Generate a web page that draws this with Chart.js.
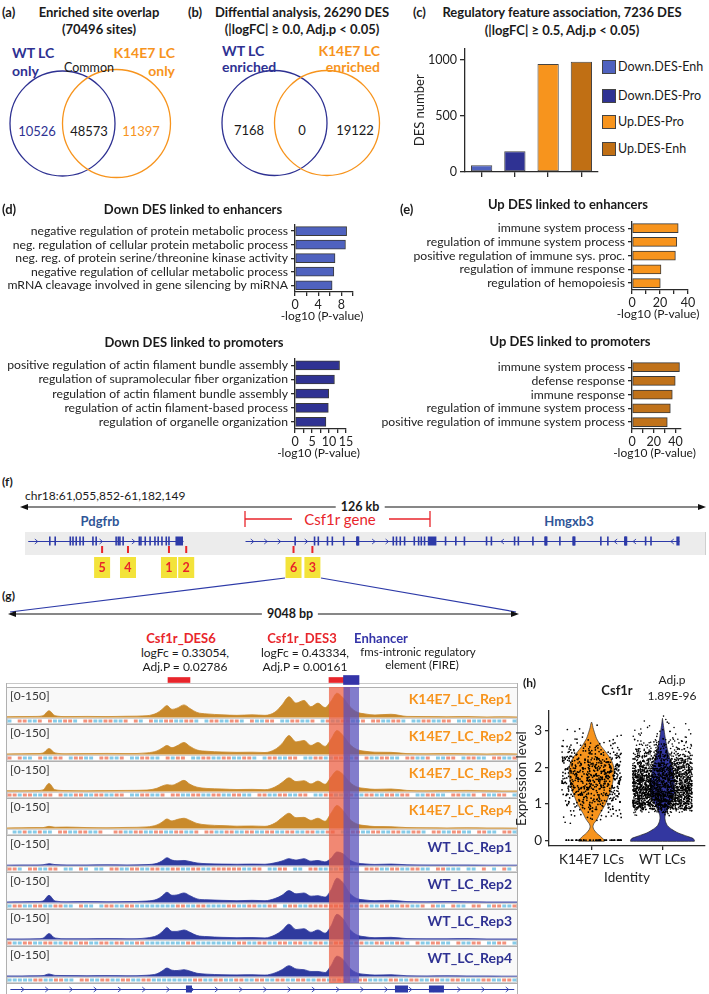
<!DOCTYPE html>
<html>
<head>
<meta charset="utf-8">
<script src="https://cdn.jsdelivr.net/npm/chart.js@4.4.1/dist/chart.umd.min.js"></script>
<style>
  body { margin: 0; background: #fff; }
  #fig { position: relative; width: 709px; height: 994px; overflow: hidden; font-family: Lato, "Open Sans", sans-serif; color: #1a1a1a; background: #fff; }
  #fig canvas, #fig svg { position: absolute; }
  .t { position: absolute; white-space: nowrap; line-height: 1; }
  .c { transform: translate(-50%, -50%); }
  .l { transform: translate(0, -50%); }
  .r { transform: translate(-100%, -50%); }
  .b { font-weight: bold; }
</style>
</head>
<body>
<div id="fig"></div>
<script>
// ---------- data ----------
const vennACounts = [10526, 48573, 11397];
const vennBCounts = [7168, 0, 19122];

const desLabels = ["Down.DES-Enh", "Down.DES-Pro", "Up.DES-Pro", "Up.DES-Enh"];
const desCounts = [60, 185, 962, 982];

const downEnhTerms = ["negative regulation of protein metabolic process", "neg. regulation of cellular protein metabolic process", "neg. reg. of protein serine/threonine kinase activity", "negative regulation of cellular metabolic process", "mRNA cleavage involved in gene silencing by miRNA"];
const downEnhP = [8.9, 8.7, 6.9, 6.7, 6.4];
const downProTerms = ["positive regulation of actin filament bundle assembly", "regulation of supramolecular fiber organization", "regulation of actin filament bundle assembly", "regulation of actin filament-based process", "regulation of organelle organization"];
const downProP = [13.1, 11.6, 9.9, 9.8, 9.1];
const upEnhTerms = ["immune system process", "regulation of immune system process", "positive regulation of immune sys. proc.", "regulation of immune response", "regulation of hemopoiesis"];
const upEnhP = [33, 32, 31, 20.7, 20.2];
const upProTerms = ["immune system process", "defense response", "immune response", "regulation of immune system process", "positive regulation of immune system process"];
const upProP = [43.6, 39.7, 37, 35.2, 32.4];

// (f) locus, positions in kb from chr18:61,055,852
const locusKb = 126.3;
const pdgfrbExons = [4.6, 5.6, 8.4, 8.9, 9.5, 10.2, 10.8, 12.6, 13.2, 16.9, 17.3, 17.6, 18.2, 21.2, 21.5, 22.3, 23.2, 24.1, 24.7, 25.4, 26.2, 26.7];
const csf1rExons = [50.1, 53.7, 54.4, 56.1, 57.0, 59.1, 61.7, 68.3, 68.9, 69.6, 70.4, 72.2, 73.0, 73.5, 74.1];
const hmgxb3Exons = [78.0, 79.9, 81.5, 85.6, 86.5, 90.8, 91.5, 94.2, 96.6, 99.2, 101.8, 106.8, 108.1, 111.4, 115.1, 116.1];
const desMarkIds = ["5", "4", "1", "2", "6", "3"];
const desMarkKb = [14.3, 19.1, 26.7, 29.9, 49.8, 53.3];

// (g) 9048 bp window
const trackSpan = 9048;
const trackBp = [0, 266, 532, 639, 745, 852, 1064, 1419, 1774, 2129, 2484, 2661, 2750, 2838, 2927, 3016, 3140, 3246, 3371, 3548, 3814, 4080, 4346, 4577, 4754, 4879, 5003, 5127, 5269, 5393, 5517, 5641, 5748, 5854, 5961, 6085, 6209, 6351, 6528, 6812, 7096, 7451, 7806, 8160, 8515, 8781, 9048];
const k14Rep1 = [4,5,6,10,38, 10,5,6,5,7, 10,25,45,66,45, 52,70,50,28,20, 15,12,15,12,30, 70,115,80,95,60, 80,55,90,135,110, 60,30,20,14,18, 6,5,4,5,3, 4,3];
const k14Rep2 = [3,4,5,8,33, 9,4,5,6,5, 9,20,35,50,38, 48,67,45,25,18, 14,12,13,11,28, 60,105,70,78,50, 67,45,85,133,105, 55,28,18,13,12, 5,4,5,4,3, 4,3];
const k14Rep3 = [4,4,5,9,45, 10,5,4,5,6, 8,18,30,38,35, 45,62,40,24,17, 14,11,12,10,25, 50,76,55,60,42, 58,40,80,115,95, 50,25,17,12,14, 6,4,5,6,4, 3,3];
const k14Rep4 = [3,4,5,5,12, 7,8,5,4,6, 9,20,35,53,42, 50,57,45,28,20, 16,13,14,12,30, 60,85,60,62,45, 57,40,85,128,100, 50,25,16,11,10, 5,4,3,4,3, 3,2];
const wtRep1 = [2,3,3,4,10, 5,3,3,4,3, 5,12,25,43,30, 26,28,22,14,10, 8,7,8,7,15, 25,38,30,38,24, 28,20,40,75,65, 30,14,9,6,8, 4,3,3,3,2, 2,2];
const wtRep2 = [3,4,5,8,40, 8,4,5,4,5, 8,18,35,57,40, 42,53,38,20,15, 12,10,12,10,22, 40,66,48,53,35, 38,30,70,135,110, 50,22,14,10,12, 5,4,5,4,3, 3,3];
const wtRep3 = [3,3,4,7,33, 8,4,4,5,4, 9,22,42,66,45, 45,53,40,22,16, 12,10,11,9,25, 50,85,55,60,40, 53,35,75,140,115, 55,25,15,10,12, 5,4,4,5,3, 3,3];
const wtRep4 = [3,3,4,5,14, 6,5,4,5,4, 7,15,30,47,35, 33,38,30,18,13, 10,9,10,8,20, 38,60,42,38,28, 28,22,60,113,95, 45,20,12,8,10, 4,3,4,3,3, 2,2];
const trackNames = ["K14E7_LC_Rep1", "K14E7_LC_Rep2", "K14E7_LC_Rep3", "K14E7_LC_Rep4", "WT_LC_Rep1", "WT_LC_Rep2", "WT_LC_Rep3", "WT_LC_Rep4"];
const trackStrips = [
  "b.rrbbr.rbbrrb.rrbbrrbbr.rb.rbbrrbbrrb.brrbbrrb.rbbrr.bbrrbbr.brbbrrbbr.rrbbrrb.bbrrbbrr.bbrbbrrbbr.b",
  "r.rbb.rbbrr.brrbb.rrbbr.bbrrbb.rbrr.bbrrbbrrbbrrb.brrbbrr.bbrrbbrrbbr.rbbrrbb.rrbbr.bbrr.brrbb.rrbbr",
  "rrbrrbbrr.rbbrrbbrrbbrr.bbrrbbr.rrbbrrbbrrbbrrbb.rrbbrrbbrr.bbrrbbrrbbrrbbrrbrr.bbrrbb.rrbbr.rbbrr.b",
  ".bbrbbrbb.rrbbrrbbr..rrbbrrbbrrbbrrbbr.rrbbrrbbrrbbrrbbrrbbrrbbrr.bbrrbbrrbbrrbbrrb.rrbbrrbb.rrbb.rrb",
  "rrb.rrbbrr.bb.rb.bb.rrbbrrbbrrbbrrbbrrbbrrrrrrbbrr.bbrr.bb.rrbbbbrrbb.rrrbbrrbbrrbb.rrbbb.bb.r.b.rb.",
  "brrbbrrbbrrbb.rbb.brrbbrrbbbbbbbbrrbbrrbbbbrrbbrrbbrr.brrbbrrrrrrrrbbrrbbrrbbrrbbr.rbb.rbb.rr.brrbbr",
  "rbbrrbbrrbbrrbrrbbrrbrrbbrrbbbbbbbbrrbbbbbbbbrrbbrrbbrrbrrbbrrbbrrbbrrbbrrbbrrb.rbbrrbb.rbbrr.bbrr.b",
  "bbbbbrrbbrrbb.rrbbrrbbrrbbrrbbbbbbbbrrbbrrbbrrbbrrbbrrbbrrbbrrbbrrbbrrbbbbrrbbrrbbrrbbrrbbbbrrbbrrb"
];
const des6Range = [2856, 3246];
const des3Range = [5712, 6085];
const enhancerRange = [5970, 6245];
const windowExonBoxes = [[3175, 3282], [6883, 7114], [7486, 7752]];

// (h) violin + cells
const k14ViolinY = [-0.03, 0, 0.1, 0.2, 0.3, 0.37, 0.45, 0.5, 0.6, 0.7, 0.8, 0.9, 1.0, 1.2, 1.4, 1.6, 1.8, 2.0, 2.2, 2.4, 2.6, 2.8, 3.0, 3.1, 3.2, 3.25];
const k14ViolinHalf = [0.18, 0.18, 0.13, 0.07, 0.03, 0.02, 0.03, 0.05, 0.085, 0.11, 0.14, 0.17, 0.2, 0.24, 0.28, 0.3, 0.315, 0.315, 0.28, 0.21, 0.13, 0.07, 0.035, 0.02, 0.01, 0];
const wtViolinY = [-0.03, 0, 0.05, 0.1, 0.2, 0.3, 0.4, 0.5, 0.6, 0.7, 0.8, 0.9, 1.0, 1.1, 1.3, 1.5, 1.8, 2.0, 2.2, 2.5, 2.8, 3.0, 3.2, 3.35];
const wtViolinHalf = [0.45, 0.45, 0.43, 0.36, 0.22, 0.13, 0.07, 0.045, 0.035, 0.04, 0.06, 0.085, 0.11, 0.14, 0.17, 0.17, 0.155, 0.14, 0.11, 0.07, 0.04, 0.025, 0.01, 0];
const k14DotStart = 0.5;
const k14DotCounts = [3,6,10,14,18,22,26,30,34,38,42,44,46,46,44,42,38,34,28,22,17,12,8,5,3,2,1,1];
const k14ZeroDots = 48;
const wtDotStart = 0.7;
const wtDotCounts = [5,40,130,160,170,175,175,170,165,160,150,140,125,110,95,80,65,50,35,25,18,12,8,6,4,3,2,1];
const wtZeroDots = 0;

// ---------- setup ----------
const COL = { wt: '#2e3192', k14: '#f7941d', red: '#e8252b', geneBlue: '#2f5597', gene: '#2d3aa8', covK: '#c98a2c', covW: '#2f3a9e' };
Chart.defaults.font.family = 'Lato, "Open Sans", sans-serif';
Chart.defaults.color = '#222';
Chart.defaults.animation = false;
Chart.defaults.responsive = false;
Chart.defaults.plugins.legend.display = false;
Chart.defaults.plugins.tooltip.enabled = false;

const fig = document.getElementById('fig');
const axisLine = { display: true, color: '#2a2a2a', width: 1.3 };
const tickGrid = len => ({ display: true, drawOnChartArea: false, drawTicks: true, tickLength: len, color: '#2a2a2a', lineWidth: 1.3 });

function canvasAt(left, top, w, h) {
  const c = document.createElement('canvas');
  c.width = w; c.height = h;
  c.style.left = left + 'px'; c.style.top = top + 'px';
  c.style.width = w + 'px'; c.style.height = h + 'px';
  fig.appendChild(c);
  return c;
}
function T(x, y, s, cls, size, color, extra) {
  const d = document.createElement('div');
  d.className = 't ' + cls;
  d.style.left = x + 'px'; d.style.top = y + 'px';
  d.style.fontSize = size + 'px';
  if (color) d.style.color = color;
  if (extra) d.style.cssText += extra;
  d.textContent = s;
  fig.appendChild(d);
}

// ---------- svg decorations (venn, arrows, frames) ----------
function arrowH(x0, x1, y) {
  return `<line x1="${x0 + 5}" y1="${y}" x2="${x1 - 5}" y2="${y}" stroke="#111" stroke-width="1.2"/>
    <polygon points="${x0},${y} ${x0 + 8},${y - 3} ${x0 + 8},${y + 3}" fill="#111"/>
    <polygon points="${x1},${y} ${x1 - 8},${y - 3} ${x1 - 8},${y + 3}" fill="#111"/>`;
}
const trackTops = [687, 724, 761, 798, 835, 872, 909, 946];
let frame = '';
trackTops.concat([983]).forEach(y => { frame += `<line x1="6" y1="${y + 0.5}" x2="518" y2="${y + 0.5}" stroke="#b0b0b0" stroke-width="1"/>`; });
fig.insertAdjacentHTML('beforeend', `
<svg width="709" height="994" style="left:0;top:0">
  <circle cx="62.5" cy="123.5" r="52.5" fill="none" stroke="${COL.wt}" stroke-width="1.3"/>
  <circle cx="116.5" cy="123.5" r="54" fill="none" stroke="${COL.k14}" stroke-width="1.3"/>
  <circle cx="274.5" cy="123" r="52.5" fill="none" stroke="${COL.wt}" stroke-width="1.3"/>
  <circle cx="327" cy="123" r="52.5" fill="none" stroke="${COL.k14}" stroke-width="1.3"/>
  ${arrowH(20, 706, 507)}
  <g stroke="${COL.red}" stroke-width="1.3">
    <line x1="245" y1="519" x2="292" y2="519"/><line x1="389" y1="519" x2="430" y2="519"/>
    <line x1="245" y1="511" x2="245" y2="527"/><line x1="430" y1="511" x2="430" y2="527"/>
  </g>
  <g stroke="${COL.gene}" stroke-width="1.2">
    <line x1="285" y1="578" x2="10" y2="612"/><line x1="321" y1="578" x2="516" y2="612"/>
  </g>
  ${arrowH(8, 519, 614)}
  <line x1="6" y1="683.5" x2="518" y2="683.5" stroke="#c8c8c8" stroke-width="1"/>
  ${frame}
  <line x1="6.5" y1="683" x2="6.5" y2="994" stroke="#b0b0b0" stroke-width="1"/>
  <line x1="517.5" y1="683" x2="517.5" y2="994" stroke="#b0b0b0" stroke-width="1"/>
</svg>`);

// ---------- (c) bar chart ----------
const desColors = ['#4f62bf', '#2f3293', '#f7941d', '#c06f14'];
new Chart(canvasAt(412, 38, 190, 150), {
  type: 'bar',
  data: { labels: desLabels, datasets: [{ data: desCounts, backgroundColor: desColors, borderColor: '#444', borderWidth: 1, borderSkipped: false, categoryPercentage: 1, barPercentage: 0.64 }] },
  options: {
    layout: { padding: { top: 9, right: 4, left: 0, bottom: 0 } },
    scales: {
      x: { ticks: { display: false }, grid: Object.assign(tickGrid(5), { offset: false }), border: axisLine, afterFit: s => { s.height = 16; } },
      y: { min: 0, max: 1100, afterBuildTicks: s => { s.ticks = [0, 500, 1000].map(v => ({ value: v })); },
           ticks: { font: { size: 12.5 }, padding: 3, callback: v => String(v) }, grid: tickGrid(5), border: axisLine,
           title: { display: true, text: 'DES number', font: { size: 13 }, padding: { top: 0, bottom: 0 } },
           afterFit: s => { s.width = 53; } }
    }
  }
});
const legendY = [67, 96, 122, 149];
desLabels.forEach((lab, i) => {
  T(602, legendY[i], '', 'l', 12, null, `width:14px;height:14px;background:${desColors[i]};border:1px solid #444;box-sizing:border-box;`);
  T(618, legendY[i], lab, 'l', 12.5);
});

// ---------- (d)/(e) horizontal bars ----------
// canvases reach far to the left so the term labels get their full width
function hbar(o) {
  const tickVals = [];
  for (let v = 0; v <= o.max + 1e-9; v += o.step) tickVals.push(v);
  const chart = new Chart(canvasAt(o.left, o.top, o.width, o.height), {
    type: 'bar',
    data: { labels: o.terms, datasets: [{ data: o.values, backgroundColor: o.color, borderColor: '#3a3a3a', borderWidth: 1, borderSkipped: false, barThickness: 9 }] },
    options: {
      indexAxis: 'y',
      layout: { padding: { top: o.areaTop - o.top, right: o.left + o.width - o.axisEnd, left: 0, bottom: 0 } },
      scales: {
        x: { min: 0, max: o.max,
             ticks: { autoSkip: false, maxRotation: 0, padding: 1, font: { size: 12.5 }, callback: v => (v % o.every === 0 ? String(v) : '') },
             afterBuildTicks: s => { s.ticks = tickVals.map(v => ({ value: v })); },
             grid: tickGrid(4), border: axisLine,
             afterFit: s => { s.height = o.top + o.height - o.areaBottom; } },
        y: { ticks: { autoSkip: false, padding: 3, font: { size: 12.2 } }, grid: Object.assign(tickGrid(4), { offset: false }), border: axisLine,
             afterFit: s => { s.width = o.axisX - o.left; } }
      }
    }
  });
  // axis title as page text: the canvas title would be squeezed to the short axis width
  T((o.axisX + o.axisEnd) / 2 - 2, o.areaBottom + 24, '-log10 (P-value)', 'c', 12);
  return chart;
}
hbar({ left: -200, top: 214, width: 560, height: 112, axisX: 295, axisEnd: 353, areaTop: 221, areaBottom: 292, max: 10, step: 2, every: 4, terms: downEnhTerms, values: downEnhP, color: '#4f62bf' });
hbar({ left: -200, top: 348, width: 560, height: 118, axisX: 295, axisEnd: 346, areaTop: 355, areaBottom: 429, max: 15, step: 2.5, every: 5, terms: downProTerms, values: downProP, color: '#2f3293' });
hbar({ left: 100, top: 211, width: 609, height: 113, axisX: 632, axisEnd: 688, areaTop: 218, areaBottom: 290, max: 40, step: 10, every: 20, terms: upEnhTerms, values: upEnhP, color: '#f7941d' });
hbar({ left: 100, top: 350, width: 609, height: 116, axisX: 632, axisEnd: 681, areaTop: 357, areaBottom: 429, max: 45, step: 10, every: 20, terms: upProTerms, values: upProP, color: '#c0721a' });

// ---------- gene drawing ----------
function drawGene(ctx, x, g, yMid, exH, color) {
  const x0 = x.getPixelForValue(g.start), x1 = x.getPixelForValue(g.end);
  ctx.strokeStyle = color; ctx.fillStyle = color; ctx.lineWidth = 1;
  ctx.beginPath(); ctx.moveTo(x0, yMid + 0.5); ctx.lineTo(x1, yMid + 0.5); ctx.stroke();
  ctx.lineWidth = 0.9;
  for (let p = g.start + g.chev / 2; p < g.end; p += g.chev) {
    if (g.exons.some(e => Math.abs(e - p) < g.chev * 0.3)) continue;
    const px = x.getPixelForValue(p);
    ctx.beginPath();
    ctx.moveTo(px - 1.5 * g.dir, yMid - 2); ctx.lineTo(px + 1.5 * g.dir, yMid + 0.5); ctx.lineTo(px - 1.5 * g.dir, yMid + 3);
    ctx.stroke();
  }
  g.exons.forEach(e => { const px = x.getPixelForValue(e); ctx.fillRect(px - 0.8, yMid - exH / 2, 1.6, exH); });
  (g.thick || []).forEach(e => { const px = x.getPixelForValue(e); ctx.fillRect(px - 1.6, yMid - exH / 2, 3.2, exH); });
  (g.boxes || []).forEach(b => { const a = x.getPixelForValue(b[0]), c = x.getPixelForValue(b[1]); ctx.fillRect(a, yMid - exH / 2, c - a, exH); });
}

const locusGenes = [
  { start: 0.6, end: 29.3, dir: 1, chev: 3, exons: pdgfrbExons, boxes: [[27.9, 29.3]] },
  { start: 40.9, end: 76.3, dir: 1, chev: 2.5, exons: csf1rExons, thick: [61.7], boxes: [[74.7, 76.3]] },
  { start: 76.3, end: 121.4, dir: -1, chev: 3.5, exons: hmgxb3Exons, thick: [96.6, 101.8, 111.4], boxes: [[120.8, 121.4]] }
];
new Chart(canvasAt(25, 530, 681, 50), {
  type: 'scatter',
  data: { datasets: [] },
  options: {
    layout: { padding: 0 },
    scales: { x: { type: 'linear', min: 0, max: locusKb, display: false }, y: { min: 0, max: 1, display: false } }
  },
  plugins: [{
    id: 'locus',
    afterDraw(chart) {
      const ctx = chart.ctx, x = chart.scales.x;
      ctx.save();
      ctx.fillStyle = '#ececec'; ctx.fillRect(0, 2, chart.width, 23);
      ctx.fillStyle = '#cfcfcf'; ctx.fillRect(chart.width - 1, 2, 1, 23);
      locusGenes.forEach(g => drawGene(ctx, x, g, 11, 9, COL.gene));
      desMarkKb.forEach((kb, i) => {
        const px = x.getPixelForValue(kb);
        ctx.fillStyle = COL.red; ctx.fillRect(px - 1, 16, 2, 7);
        ctx.fillStyle = '#f3e33a'; ctx.fillRect(px - 8, 27, 16, 21);
        ctx.fillStyle = COL.red; ctx.font = 'bold 12.5px Lato'; ctx.textAlign = 'center'; ctx.textBaseline = 'middle';
        ctx.fillText(desMarkIds[i], px, 38);
      });
      ctx.restore();
    }
  }]
});

// ---------- (g) tracks ----------
new Chart(canvasAt(7, 673, 510, 14), {
  type: 'bar',
  data: { labels: ['des'], datasets: [
    { data: [enhancerRange], backgroundColor: '#3434a8', barThickness: 9, grouped: false },
    { data: [des6Range], backgroundColor: COL.red, barThickness: 5, grouped: false },
    { data: [des3Range], backgroundColor: COL.red, barThickness: 5, grouped: false }
  ] },
  options: {
    indexAxis: 'y',
    layout: { padding: 0 },
    scales: { x: { type: 'linear', min: 0, max: trackSpan, display: false }, y: { display: false } }
  }
});

function trackDeco(name, color, strip) {
  return {
    id: 'trackDeco',
    beforeDatasetsDraw(chart) {
      const { ctx, chartArea: a } = chart;
      ctx.save(); ctx.fillStyle = '#f9f9f9'; ctx.fillRect(a.left, a.top + 1, a.width, a.height - 1); ctx.restore();
    },
    afterDatasetsDraw(chart) {
      const { ctx, chartArea: a, scales: { x, y } } = chart;
      const base = Math.round(y.getPixelForValue(0));
      ctx.save();
      ctx.fillStyle = '#fff'; ctx.fillRect(a.left, base + 0.5, a.width, 5);
      ctx.strokeStyle = '#c8c8c8'; ctx.lineWidth = 0.8; ctx.strokeRect(a.left + 0.5, base + 0.5, a.width - 1, 5);
      const w = trackSpan / strip.length;
      for (let i = 0; i < strip.length; i++) {
        const ch = strip[i];
        if (ch === '.') continue;
        const x0 = x.getPixelForValue(i * w), x1 = x.getPixelForValue((i + 1) * w);
        ctx.fillStyle = ch === 'r' ? '#f3927c' : '#86cbe8';
        ctx.fillRect(x0 + 0.6, base + 1.5, x1 - x0 - 1.2, 3);
      }
      [[des3Range, 'rgba(238,96,68,0.74)'], [enhancerRange, 'rgba(88,80,188,0.74)']].forEach(([r, c]) => {
        const x0 = x.getPixelForValue(r[0]), x1 = x.getPixelForValue(r[1]);
        ctx.fillStyle = c; ctx.fillRect(x0, 0, x1 - x0, chart.height);
      });
      ctx.textBaseline = 'middle';
      ctx.font = '12px Lato'; ctx.fillStyle = '#333'; ctx.textAlign = 'left';
      ctx.fillText('[0-150]', 3, 9.5);
      ctx.font = 'bold 14px Lato'; ctx.fillStyle = color; ctx.textAlign = 'right';
      ctx.fillText(name, a.right - 5, 12);
      ctx.restore();
    }
  };
}
const trackCov = [k14Rep1, k14Rep2, k14Rep3, k14Rep4, wtRep1, wtRep2, wtRep3, wtRep4];
trackCov.forEach((vals, k) => {
  const h = 37, basePx = 30.5, topPx = 3.5;
  const upp = 150 / (basePx - topPx);
  const isK = k < 4;
  const col = isK ? COL.covK : COL.covW;
  new Chart(canvasAt(7, trackTops[k], 510, h), {
    type: 'line',
    data: { datasets: [{ data: trackBp.map((b, i) => ({ x: b, y: vals[i] })), borderColor: col, backgroundColor: col, borderWidth: 0.8, fill: 'origin', pointRadius: 0, cubicInterpolationMode: 'monotone' }] },
    options: {
      layout: { padding: 0 },
      scales: {
        x: { type: 'linear', min: 0, max: trackSpan, display: false },
        y: { min: -(h - basePx) * upp, max: 150 + topPx * upp, display: false }
      }
    },
    plugins: [trackDeco(trackNames[k], isK ? COL.k14 : COL.wt, trackStrips[k])]
  });
});
new Chart(canvasAt(7, 984, 510, 10), {
  type: 'scatter',
  data: { datasets: [] },
  options: { layout: { padding: 0 }, scales: { x: { type: 'linear', min: 0, max: trackSpan, display: false }, y: { min: 0, max: 1, display: false } } },
  plugins: [{
    id: 'windowGene',
    afterDraw(chart) {
      const ctx = chart.ctx; ctx.save();
      drawGene(ctx, chart.scales.x, { start: 60, end: 9000, dir: 1, chev: 430, exons: [], boxes: windowExonBoxes }, 5, 7, COL.gene);
      ctx.restore();
    }
  }]
});

// ---------- (h) violin ----------
// fixed, repeatable jitter for cell dots inside each expression bin
const jit = n => { const s = Math.sin(n * 12.9898 + 78.233) * 43758.5453; return s - Math.floor(s); };
function violinShape(center, ys, half) {
  const pts = ys.map((y, i) => ({ x: center - half[i], y }));
  for (let i = ys.length - 1; i >= 0; i--) pts.push({ x: center + half[i], y: ys[i] });
  pts.push(pts[0]);
  return pts;
}
function cellDots(center, start, counts, zeros, seed) {
  const pts = []; let n = seed * 10007;
  counts.forEach((c, i) => {
    for (let k = 0; k < c; k++) {
      n += 1;
      pts.push({ x: center + (jit(n) * 2 - 1) * 0.42, y: start + i * 0.1 + (jit(n + 0.5) - 0.5) * 0.1 });
    }
  });
  for (let k = 0; k < zeros; k++) { n += 1; pts.push({ x: center + (jit(n) * 2 - 1) * 0.42, y: 0 }); }
  return pts;
}
new Chart(canvasAt(512, 700, 197, 190), {
  type: 'scatter',
  data: { datasets: [
    { data: cellDots(1, k14DotStart, k14DotCounts, k14ZeroDots, 1), pointRadius: 0.85, pointBackgroundColor: '#000', pointBorderWidth: 0, order: 0 },
    { data: cellDots(2, wtDotStart, wtDotCounts, wtZeroDots, 2), pointRadius: 0.8, pointBackgroundColor: '#000', pointBorderWidth: 0, order: 0 },
    { type: 'line', data: violinShape(1, k14ViolinY, k14ViolinHalf), borderColor: '#333', borderWidth: 0.7, backgroundColor: '#f7941d', fill: 'shape', pointRadius: 0, tension: 0.2, order: 1 },
    { type: 'line', data: violinShape(2, wtViolinY, wtViolinHalf), borderColor: '#222', borderWidth: 0.7, backgroundColor: '#3337a0', fill: 'shape', pointRadius: 0, tension: 0.2, order: 1 }
  ] },
  options: {
    layout: { padding: { top: 10, right: 4, left: 0, bottom: 0 } },
    scales: {
      x: { type: 'linear', min: 0.4, max: 2.6, afterBuildTicks: s => { s.ticks = [1, 2].map(v => ({ value: v })); },
           ticks: { font: { size: 13.5 }, padding: 2, callback: v => (v === 1 ? 'K14E7 LCs' : 'WT LCs') },
           grid: tickGrid(4), border: axisLine,
           title: { display: true, text: 'Identity', font: { size: 13.5 }, padding: { top: 0, bottom: 4 } },
           afterFit: s => { s.height = 44; } },
      y: { min: -0.16, max: 3.55, afterBuildTicks: s => { s.ticks = [0, 1, 2, 3].map(v => ({ value: v })); },
           ticks: { font: { size: 13.5 }, padding: 3 }, grid: tickGrid(4), border: axisLine,
           title: { display: true, text: 'Expression level', font: { size: 13.5 }, padding: { top: 2, bottom: 0 } },
           afterFit: s => { s.width = 37; } }
    }
  }
});

// ---------- text ----------
T(2, 12, '(a)', 'l b', 13);
T(99, 12, 'Enriched site overlap', 'c b', 13);
T(99, 29, '(70496 sites)', 'c b', 13);
T(12, 53, 'WT LC', 'l b', 14, COL.wt);
T(12, 71, 'only', 'l b', 14, COL.wt);
T(89, 68, 'Common', 'c', 12.5);
T(175, 53, 'K14E7 LC', 'r b', 14, COL.k14);
T(175, 71, 'only', 'r b', 14, COL.k14);
T(37, 131, String(vennACounts[0]), 'c', 13, COL.wt);
T(89, 131, String(vennACounts[1]), 'c', 13);
T(141, 131, String(vennACounts[2]), 'c', 13, COL.k14);

T(188, 12, '(b)', 'l b', 13);
T(302, 12, 'Diffential analysis, 26290 DES', 'c b', 13);
T(302, 29, '(|logFC| \u2265 0.0, Adj.p < 0.05)', 'c b', 13);
T(222, 51, 'WT LC', 'l b', 14, COL.wt);
T(222, 67, 'enriched', 'l b', 14, COL.wt);
T(380, 51, 'K14E7 LC', 'r b', 14, COL.k14);
T(380, 67, 'enriched', 'r b', 14, COL.k14);
T(249, 130, String(vennBCounts[0]), 'c', 13);
T(302, 130, String(vennBCounts[1]), 'c', 13);
T(355, 130, String(vennBCounts[2]), 'c', 13);

T(413, 12, '(c)', 'l b', 13);
T(562, 12, 'Regulatory feature association, 7236 DES', 'c b', 13);
T(562, 30, '(|logFC| \u2265 0.5, Adj.p < 0.05)', 'c b', 13);

T(2, 209, '(d)', 'l b', 13);
T(193, 209, 'Down DES linked to enhancers', 'c b', 13);
T(194, 342, 'Down DES linked to promoters', 'c b', 13);
T(400, 209, '(e)', 'l b', 13);
T(568, 204, 'Up DES linked to enhancers', 'c b', 13);
T(570, 341, 'Up DES linked to promoters', 'c b', 13);

T(2, 482, '(f)', 'l b', 12);
T(25, 496, 'chr18:61,055,852-61,182,149', 'l', 12);
T(360, 507, '126 kb', 'c b', 12.5, null, 'background:#fff;padding:1px 5px;');
T(340, 519, 'Csf1r gene', 'c', 15, COL.red);
T(100, 521, 'Pdgfrb', 'c b', 13, COL.geneBlue);
T(569, 521, 'Hmgxb3', 'c b', 13, COL.geneBlue);

T(2, 596, '(g)', 'l b', 12);
T(290, 614, '9048 bp', 'c b', 12.5, null, 'background:#fff;padding:1px 5px;');
T(181, 638, 'Csf1r_DES6', 'c b', 13, COL.red);
T(185, 653, 'logFc = 0.33054,', 'c', 12);
T(185, 667, 'Adj.P = 0.02786', 'c', 12);
T(302, 638, 'Csf1r_DES3', 'c b', 13, COL.red);
T(305, 653, 'logFc = 0.43334,', 'c', 12);
T(305, 667, 'Adj.P = 0.00161', 'c', 12);
T(381, 638, 'Enhancer', 'c b', 13, '#3434a8');
T(418, 652, 'fms-intronic regulatory', 'c', 11.5);
T(422, 665, 'element (FIRE)', 'c', 11.5);

T(523, 683, '(h)', 'l b', 12);
T(617, 690, 'Csf1r', 'c b', 13);
T(672, 680, 'Adj.p', 'c', 12);
T(672, 696, '1.89E-96', 'c', 12);
</script>
</body>
</html>
